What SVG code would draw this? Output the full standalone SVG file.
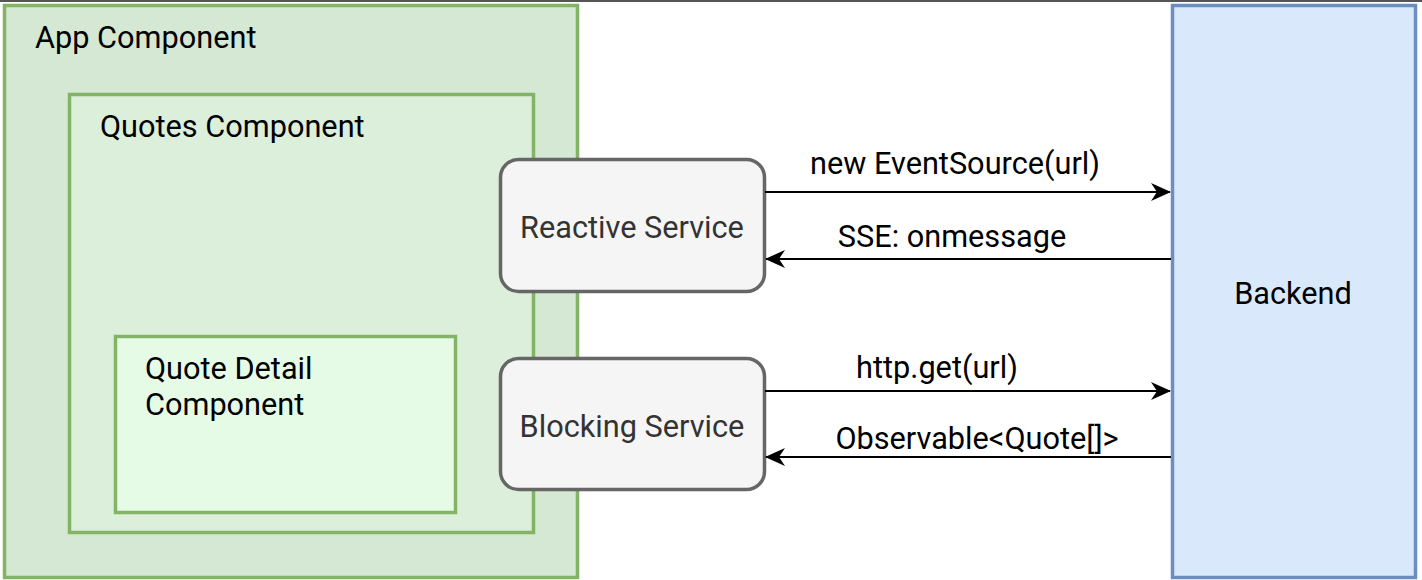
<svg xmlns="http://www.w3.org/2000/svg" width="1422" height="580" viewBox="0 0 1422 580">
<style>
text{font-family:Roboto,"Liberation Sans",sans-serif;font-size:30.7px;fill:#000}
.grn{stroke:#82b366;stroke-width:3.5}
.svc{fill:#f5f5f5;stroke:#666;stroke-width:3.5}
.svct{fill:#333;text-anchor:middle}
.lbl{text-anchor:middle}
.conn{stroke:#000;stroke-width:2;fill:none}
</style>
<defs>
<marker id="ah" viewBox="0 0 20 20" refX="19" refY="10" markerWidth="20" markerHeight="20" markerUnits="userSpaceOnUse" orient="auto">
<path d="M0,1 L20,10 L0,19 L6,10 Z" fill="#000"/>
</marker>
</defs>
<rect width="1422" height="580" fill="#fff"/>
<line x1="0" y1="1" x2="1422" y2="1" stroke="#555" stroke-width="2"/>
<g id="app">
<rect class="grn" x="4.5" y="5.5" width="573" height="572" fill="#d5e8d4"/>
<text x="35" y="48">App Component</text>
</g>
<g id="quotes">
<rect class="grn" x="69.5" y="94.5" width="464" height="438" fill="#dcefdb"/>
<text x="100" y="137">Quotes Component</text>
</g>
<g id="detail">
<rect class="grn" x="115.5" y="336.5" width="340" height="176" fill="#e6fbe6"/>
<text x="145" y="379">Quote Detail</text>
<text x="145" y="415">Component</text>
</g>
<g id="reactive">
<rect class="svc" x="500.5" y="159.5" width="264" height="132" rx="18"/>
<text class="svct" x="632" y="238">Reactive Service</text>
</g>
<g id="blocking">
<rect class="svc" x="500.5" y="358.5" width="264" height="131" rx="18"/>
<text class="svct" x="632" y="437">Blocking Service</text>
</g>
<g id="backend">
<rect x="1172.5" y="5.5" width="243" height="572" fill="#dae8fc" stroke="#6c8ebf" stroke-width="3.5"/>
<text class="lbl" x="1293" y="304">Backend</text>
</g>
<g id="connectors">
<line class="conn" x1="765" y1="192" x2="1170" y2="192" marker-end="url(#ah)"/>
<line class="conn" x1="1171" y1="259" x2="766" y2="259" marker-end="url(#ah)"/>
<line class="conn" x1="765" y1="391" x2="1170" y2="391" marker-end="url(#ah)"/>
<line class="conn" x1="1171" y1="457" x2="766" y2="457" marker-end="url(#ah)"/>
<text class="lbl" x="955" y="174">new EventSource(url)</text>
<text class="lbl" x="952" y="247">SSE: onmessage</text>
<text class="lbl" x="937" y="378">http.get(url)</text>
<text class="lbl" x="977" y="449">Observable&lt;Quote[]&gt;</text>
</g>
</svg>
